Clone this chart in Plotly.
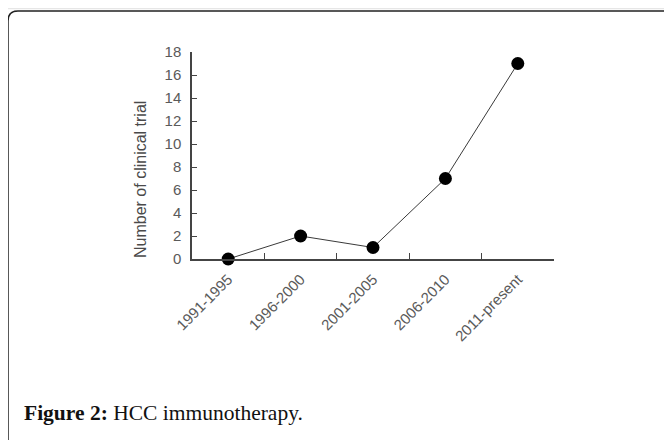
import plotly.graph_objects as go

periods = ["1991-1995", "1996-2000", "2001-2005", "2006-2010", "2011-present"]
trials = [0, 2, 1, 7, 17]
y_ticks = [0, 2, 4, 6, 8, 10, 12, 14, 16, 18]

W, H = 672, 440
OFF = 8  # page body margin
L, R, T, B = 192 - OFF, 118 + OFF, 52 - OFF, 181 + OFF
pw, ph = W - L - R, H - T - B

def px(x):
    return (x - OFF - L) / pw

def py(y):
    return (H - B - (y - OFF)) / ph

fig = go.Figure()
fig.add_trace(go.Scatter(
    x=periods, y=trials, mode="lines+markers",
    line=dict(color="#3a3a3a", width=1),
    marker=dict(color="black", size=13),
    cliponaxis=False, showlegend=False,
))

axis_font = dict(family="Liberation Sans, Arial, sans-serif", size=15, color="#5a5a5a")
fig.update_xaxes(
    type="category", range=[-0.5, 4.5], tickson="boundaries",
    ticks="inside", ticklen=6, tickcolor="#444", tickwidth=1,
    showline=True, linecolor="#444", linewidth=1.5,
    showgrid=False, zeroline=False, tickangle=-45, tickfont=axis_font,
    ticklabelstandoff=4,
)
fig.update_yaxes(
    range=[0, 18], tickvals=y_ticks, ticks="inside", ticklen=5,
    tickcolor="#444", tickwidth=1, showline=True, linecolor="#444", linewidth=1.5,
    showgrid=False, zeroline=False, tickfont=axis_font, ticklabelstandoff=6,
)

# y-axis title placed as in the reference
fig.add_annotation(
    xref="paper", yref="paper", x=px(140), y=py(180), xanchor="center", yanchor="middle",
    text="Number of clinical trial", textangle=-90, showarrow=False,
    font=dict(family="Liberation Sans, Arial, sans-serif", size=16, color="#4a4a4a"),
)

# rounded border frame
r = 10
x0, y0 = 8, 11
path = (f"M {px(x0)},{py(H + 20)} L {px(x0)},{py(y0 + r)} "
        f"Q {px(x0)},{py(y0)} {px(x0 + r)},{py(y0)} L {px(W + 20)},{py(y0)}")
fig.add_shape(type="path", xref="paper", yref="paper", path=path,
              line=dict(color="#222", width=1.5))
fig.add_shape(type="line", xref="paper", yref="paper",
              x0=px(OFF), x1=px(W + 20), y0=py(OFF + 0.5), y1=py(OFF + 0.5),
              line=dict(color="#e6e6e6", width=1.5))

fig.add_annotation(
    xref="paper", yref="paper", x=px(22), y=py(413), xanchor="left", yanchor="middle",
    text="<b>Figure 2:</b> HCC immunotherapy.", showarrow=False,
    font=dict(family="Liberation Serif, DejaVu Serif, serif", size=21.5, color="#111"),
)

fig.update_layout(
    width=W, height=H, margin=dict(l=L, r=R, t=T, b=B),
    paper_bgcolor="white", plot_bgcolor="white",
)
fig.write_html("out.html")
